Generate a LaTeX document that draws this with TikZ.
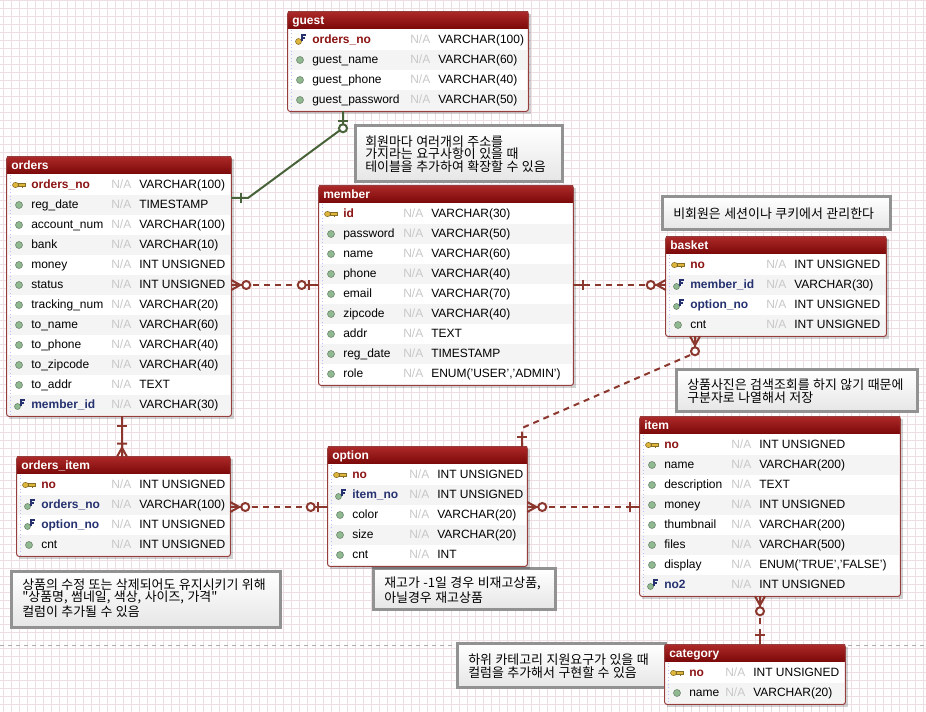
\documentclass[tikz,border=0pt]{standalone}
\usepackage{fontspec}
\setmainfont{Liberation Sans}
\newfontfamily\kor[WordSpace=1.2]{Noto Sans CJK KR}
\usetikzlibrary{fit}

\definecolor{gridpink}{RGB}{236,222,226}
\definecolor{relred}{RGB}{140,55,45}
\definecolor{relgreen}{RGB}{72,98,58}
\definecolor{headtop}{RGB}{172,40,40}
\definecolor{headbot}{RGB}{122,8,8}
\definecolor{tblred}{RGB}{150,62,62}
\definecolor{pkred}{RGB}{140,20,20}
\definecolor{fkblue}{RGB}{38,50,112}
\definecolor{nagray}{RGB}{200,200,200}
\definecolor{band}{RGB}{244,244,244}
\definecolor{dotgreen}{RGB}{145,185,145}
\definecolor{keygold}{RGB}{222,182,62}
\definecolor{notegray}{RGB}{146,146,146}

\newcommand\erfont{\fontsize{9}{11}\selectfont}

\newcommand\iconorm[2]{\filldraw[fill=dotgreen, draw=dotgreen!70!black, line width=0.4pt] (#1,#2) circle (3.5);}
\newcommand\icopk[2]{%
  \filldraw[fill=keygold, draw=keygold!60!black, line width=0.4pt] (#1-3.5,#2) ellipse (3 and 2.6);
  \filldraw[fill=keygold, draw=keygold!60!black, line width=0.4pt] (#1-0.5,#2-1.3) rectangle (#1+6,#2+1.3);
  \fill[keygold!60!black] (#1+2.5,#2+1.3) rectangle (#1+4,#2+3);}
\newcommand\icofk[2]{%
  \filldraw[fill=dotgreen, draw=dotgreen!70!black, line width=0.4pt] (#1-1.5,#2+1.5) circle (3);
  \draw[fkblue, line width=1.1pt] (#1+2,#2+1) -- (#1+2,#2-5) -- (#1+6,#2-5) (#1+2,#2-2) -- (#1+5,#2-2);}
\newcommand\icopfk[2]{%
  \filldraw[fill=keygold, draw=keygold!60!black, line width=0.4pt] (#1-1.5,#2+1.5) circle (3);
  \draw[fkblue, line width=1.1pt] (#1+2,#2+1) -- (#1+2,#2-5) -- (#1+6,#2-5) (#1+2,#2-2) -- (#1+5,#2-2);}

\newcommand\ertable[7]{%
  \foreach \rr [count=\cc] in {#7} {\xdef\errows{\cc}}%
  \pgfmathtruncatemacro\erbot{#4+19+20*\errows}%
  \fill[tblshadow] (#3+2,#4+2) rectangle (#3+#5+3,\erbot+3);
  \node[tblframe, fit={(#3,#4) (#3+#5,\erbot)}] (#1) {};
  \fill[tblhead] (#3,#4) rectangle (#3+#5,#4+17);
  \node[tbltitle] (#1-t) at (#3+4,#4+9) {#2};
  \foreach \ck/\cn/\ct [count=\i] in {#7} {
    \pgfmathsetmacro\ery{#4+28+20*(\i-1)}
    \ifodd\i\else\fill[rowband] (#3+1,\ery-10) rectangle (#3+#5-1,\ery+10);\fi
    \csname ico\ck\endcsname{#3+12}{\ery}
    \node[col\ck] (#1-\i) at (#3+24,\ery) {\cn};
    \node[nacol] (#1-na\i) at (#3+#6,\ery) {N/A};
    \node[typecol] (#1-ty\i) at (#3+#6+28,\ery) {\ct};
  }
  \draw[rowguide] (#3+3,#4+18) -- (#3+3,\erbot-1);
  \draw[tblborder] (#1.south west) rectangle (#1.north east);
}

\tikzset{
  gridline/.style={gridpink, line width=0.75pt},
  pagebreak/.style={gray!65, line width=0.75pt, dash pattern=on 3pt off 3pt},
  tblshadow/.style={fill=black, opacity=0.18},
  tblframe/.style={inner sep=0pt, fill=white},
  tblhead/.style={top color=headtop, bottom color=headbot},
  tblborder/.style={draw=tblred, line width=0.75pt, rounded corners=1.5pt},
  rowband/.style={fill=band},
  rowguide/.style={draw=blue!25, dotted, line width=0.6pt},
  cell/.style={anchor=west, inner sep=0pt, text height=7pt, text depth=2pt},
  tbltitle/.style={cell, text=white, font=\erfont\bfseries},
  colnorm/.style={cell},
  colpk/.style={cell, text=pkred, font=\erfont\bfseries},
  colpfk/.style={colpk},
  colfk/.style={cell, text=fkblue, font=\erfont\bfseries},
  nacol/.style={cell, text=nagray},
  typecol/.style={cell},
  notebox/.style={inner sep=0pt, draw=notegray, line width=2.25pt, top color=white, bottom color=black!10},
  notetext/.style={anchor=west, inner sep=0pt, align=left, font=\kor\fontsize{9.7}{9.5}\selectfont},
  rel/.style={draw=relred, line width=1.5pt, dash pattern=on 4.5pt off 3.75pt},
  relid/.style={draw=relred, line width=1.5pt},
  relnon/.style={draw=relgreen, line width=1.5pt},
  relpen/.style={line width=1.5pt, solid},
  relone/.pic={\draw[relpen] (0,0) -- (10,0) (10,-5) -- (10,5);},
  relzeroone/.pic={\draw[relpen] (0,0) -- (13,0) (10,-5) -- (10,5);
    \filldraw[relpen, fill=white] (17,0) circle (4);},
  relzeromany/.pic={\draw[relpen] (0,-5) -- (9,0) -- (0,5) (0,0) -- (11,0);
    \filldraw[relpen, fill=white] (15,0) circle (4);},
  relonemany/.pic={\draw[relpen] (0,-5) -- (9,0) -- (0,5) (0,0) -- (14,0) (13,-5) -- (13,5);},
}

\begin{document}
\begin{tikzpicture}[x=0.75pt, y=-0.75pt, font=\erfont]
\useasboundingbox (0,0) rectangle (926,712);
\fill[white] (0,0) rectangle (926,712);
\foreach \gx in {3,11,...,923} \draw[gridline] (\gx,0) -- (\gx,712);
\foreach \gy in {1,9,...,705} \draw[gridline] (0,\gy) -- (926,\gy);
\draw[pagebreak] (0,646) -- (926,646);

\node[notebox, fit={(355,126) (562,182)}] (note1) {};
\node[notetext] (note1-t) at (365,154) {회원마다 여러개의 주소를\\가지라는 요구사항이 있을 때\\테이블을 추가하여 확장할 수 있음};
\node[notebox, fit={(662,197) (890,230)}] (note2) {};
\node[notetext] (note2-t) at (673,213.5) {비회원은 세션이나 쿠키에서 관리한다};
\node[notebox, fit={(676,370) (917,412)}] (note3) {};
\node[notetext] (note3-t) at (687,391) {상품사진은 검색조회를 하지 않기 때문에\\구분자로 나열해서 저장};
\node[notebox, fit={(11,572) (280,628)}] (note4) {};
\node[notetext] (note4-t) at (22,598) {상품의 수정 또는 삭제되어도 유지시키기 위해\\"상품명, 썸네일, 색상, 사이즈, 가격"\\컬럼이 추가될 수 있음};
\node[notebox, fit={(373,569) (555,610)}] (note5) {};
\node[notetext] (note5-t) at (384,590) {재고가 -1일 경우 비재고상품,\\아닐경우 재고상품};
\node[notebox, fit={(457,644) (665,688)}] (note6) {};
\node[notetext] (note6-t) at (468,666) {하위 카테고리 지원요구가 있을 때\\컬럼을 추가해서 구현할 수 있음};

\ertable{guest}{guest}{288}{12}{240}{122}{pfk/orders\_no/VARCHAR(100), norm/guest\_name/VARCHAR(60), norm/guest\_phone/VARCHAR(40), norm/guest\_password/VARCHAR(50)}
\ertable{orders}{orders}{7}{157}{224}{104}{pk/orders\_no/VARCHAR(100), norm/reg\_date/TIMESTAMP, norm/account\_num/VARCHAR(100), norm/bank/VARCHAR(10), norm/money/INT UNSIGNED, norm/status/INT UNSIGNED, norm/tracking\_num/VARCHAR(20), norm/to\_name/VARCHAR(60), norm/to\_phone/VARCHAR(40), norm/to\_zipcode/VARCHAR(40), norm/to\_addr/TEXT, fk/member\_id/VARCHAR(30)}
\ertable{member}{member}{319}{186}{254}{84}{pk/id/VARCHAR(30), norm/password/VARCHAR(50), norm/name/VARCHAR(60), norm/phone/VARCHAR(40), norm/email/VARCHAR(70), norm/zipcode/VARCHAR(40), norm/addr/TEXT, norm/reg\_date/TIMESTAMP, norm/role/{ENUM('USER','ADMIN')}}
\ertable{basket}{basket}{666}{237}{220}{100}{pk/no/INT UNSIGNED, fk/member\_id/VARCHAR(30), fk/option\_no/INT UNSIGNED, norm/cnt/INT UNSIGNED}
\ertable{ordersitem}{orders\_item}{17}{457}{213}{94}{pk/no/INT UNSIGNED, fk/orders\_no/VARCHAR(100), fk/option\_no/INT UNSIGNED, norm/cnt/INT UNSIGNED}
\ertable{option}{option}{328}{447}{199}{81}{pk/no/INT UNSIGNED, fk/item\_no/INT UNSIGNED, norm/color/VARCHAR(20), norm/size/VARCHAR(20), norm/cnt/INT}
\ertable{item}{item}{640}{417}{260}{91}{pk/no/INT UNSIGNED, norm/name/VARCHAR(200), norm/description/TEXT, norm/money/INT UNSIGNED, norm/thumbnail/VARCHAR(200), norm/files/VARCHAR(500), norm/display/{ENUM('TRUE','FALSE')}, fk/no2/INT UNSIGNED}
\ertable{category}{category}{665}{645}{180}{60}{pk/no/INT UNSIGNED, norm/name/VARCHAR(20)}

\coordinate (gdrop) at (343,128);
\coordinate (gbend) at (248,198);
\draw[relnon] (343,0 |- guest.south) -- (gdrop) -- (gbend) -- (gbend -| orders.east);
\pic[color=relgreen, rotate=-90] at (343,0 |- guest.south) {relzeroone};
\pic[color=relgreen] at (gbend -| orders.east) {relone};

\draw[rel] (orders.east |- orders-6) -- (member.west |- orders-6);
\pic[color=relred] at (orders.east |- orders-6) {relzeromany};
\pic[color=relred, rotate=180] at (member.west |- orders-6) {relzeroone};

\draw[rel] (member.east |- basket-2) -- (basket.west |- basket-2);
\pic[color=relred] at (member.east |- basket-2) {relone};
\pic[color=relred, rotate=180] at (basket.west |- basket-2) {relzeromany};

\coordinate (bdrop) at (695,353);
\coordinate (obend) at (522,428);
\draw[rel] (695,0 |- basket.south) -- (bdrop) -- (obend) -- (obend |- option.north);
\pic[color=relred, rotate=-90] at (695,0 |- basket.south) {relzeromany};
\pic[color=relred, rotate=90] at (obend |- option.north) {relone};

\draw[relid] (122,0 |- orders.south) -- (122,0 |- ordersitem.north);
\pic[color=relred, rotate=-90] at (122,0 |- orders.south) {relone};
\pic[color=relred, rotate=90] at (122,0 |- ordersitem.north) {relonemany};

\draw[rel] (ordersitem.east |- 0,507) -- (option.west |- 0,507);
\pic[color=relred] at (ordersitem.east |- 0,507) {relzeromany};
\pic[color=relred, rotate=180] at (option.west |- 0,507) {relzeroone};

\draw[rel] (option.east |- 0,507) -- (item.west |- 0,507);
\pic[color=relred] at (option.east |- 0,507) {relzeromany};
\pic[color=relred, rotate=180] at (item.west |- 0,507) {relone};

\draw[rel] (760,0 |- item.south) -- (760,0 |- category.north);
\pic[color=relred, rotate=-90] at (760,0 |- item.south) {relzeromany};
\pic[color=relred, rotate=90] at (760,0 |- category.north) {relone};
\end{tikzpicture}
\end{document}
